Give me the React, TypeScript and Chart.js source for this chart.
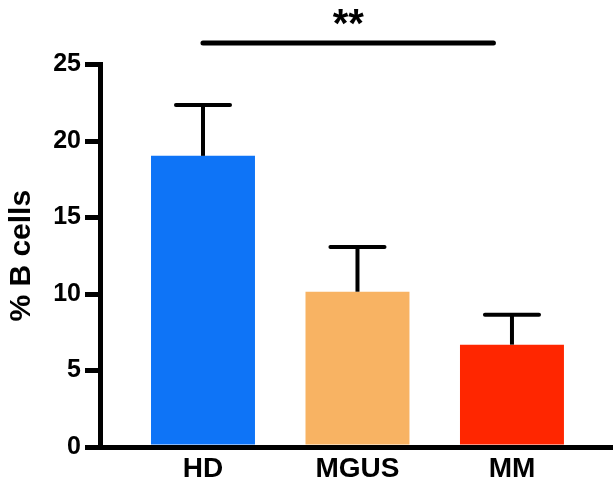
import React, { useEffect, useRef } from "react";
import { Chart, registerables } from "chart.js";

Chart.register(...registerables);

const categories = ["HD", "MGUS", "MM"];
const means = [19.03, 10.15, 6.69];
const errorTops = [22.36, 13.07, 8.65];
const barColors = ["#0E74F7", "#F8B363", "#FF2600"];
const yTicks = [0, 5, 10, 15, 20, 25];
const sigRange = [0, 1.88];
const sigLevel = 26.4;
const sigLabelLevel = 27.55;
const sigLabel = "**";

const FONT = "'Liberation Sans', Arial, Helvetica, sans-serif";

const errorBarPlugin = {
  id: "errorBars",
  afterDatasetsDraw(chart: any) {
    const { ctx } = chart;
    const meta = chart.getDatasetMeta(0);
    const y = chart.scales.y;
    ctx.save();
    ctx.strokeStyle = "#000";
    ctx.lineWidth = 4;
    meta.data.forEach((el: any, i: number) => {
      const top = y.getPixelForValue(errorTops[i]);
      const half = el.width * 0.26;
      ctx.lineCap = "butt";
      ctx.beginPath();
      ctx.moveTo(el.x, el.y);
      ctx.lineTo(el.x, top);
      ctx.stroke();
      ctx.lineCap = "round";
      ctx.beginPath();
      ctx.moveTo(el.x - half, top);
      ctx.lineTo(el.x + half, top);
      ctx.stroke();
    });
    ctx.restore();
  },
};

const sigPlugin = {
  id: "sig",
  afterDraw(chart: any) {
    const { ctx } = chart;
    const x = chart.scales.x;
    const y = chart.scales.y;
    const x1 = x.getPixelForValue(sigRange[0]);
    const x2 = x.getPixelForValue(sigRange[1]);
    const py = y.getPixelForValue(sigLevel);
    ctx.save();
    ctx.strokeStyle = "#000";
    ctx.lineWidth = 5;
    ctx.lineCap = "round";
    ctx.beginPath();
    ctx.moveTo(x1, py);
    ctx.lineTo(x2, py);
    ctx.stroke();
    ctx.fillStyle = "#000";
    ctx.font = `bold 40px ${FONT}`;
    ctx.textAlign = "center";
    ctx.textBaseline = "middle";
    ctx.fillText(sigLabel, (x1 + x2) / 2, y.getPixelForValue(sigLabelLevel));
    ctx.restore();
  },
};

export default function App() {
  const ref = useRef<HTMLCanvasElement>(null);
  useEffect(() => {
    if (!ref.current) return;
    const chart = new Chart(ref.current, {
      type: "bar",
      data: {
        datasets: [
          {
            data: categories.map((c, i) => ({ x: i, y: means[i] })),
            backgroundColor: barColors,
            borderWidth: 0,
            barPercentage: 0.673,
            categoryPercentage: 1,
          },
        ],
      },
      options: {
        animation: false,
        responsive: false,
        events: [],
        layout: { padding: { top: 64.5, left: 0, right: 0, bottom: 0 } },
        plugins: { legend: { display: false }, tooltip: { enabled: false } },
        scales: {
          x: {
            type: "linear",
            min: -0.6667,
            max: 2.654,
            offset: false,
            bounds: "data",
            z: 1,
            afterFit: (s: any) => {
              s.height = 41;
            },
            afterBuildTicks: (s: any) => {
              s.ticks = categories.map((c, i) => ({ value: i }));
            },
            grid: { display: false, drawTicks: false, offset: false },
            border: { display: true, width: 5, color: "#000" },
            ticks: {
              color: "#000",
              padding: 5,
              font: { family: FONT, size: 28, weight: "bold" },
              callback: (v: any) => categories[v] ?? "",
              maxRotation: 0,
              autoSkip: false,
            },
          },
          y: {
            min: 0,
            max: 25,
            z: 1,
            afterFit: (s: any) => {
              s.width = 100;
            },
            afterBuildTicks: (s: any) => {
              s.ticks = yTicks.map((v) => ({ value: v }));
            },
            grid: {
              display: true,
              drawOnChartArea: false,
              drawTicks: true,
              tickLength: 15,
              lineWidth: 5,
              color: "#000",
            },
            border: { display: true, width: 5, color: "#000" },
            ticks: {
              color: "#000",
              padding: 4,
              font: { family: FONT, size: 25, weight: "bold" },
            },
            title: {
              display: true,
              text: "% B cells",
              color: "#000",
              padding: { top: 3.5, bottom: 0 },
              font: { family: FONT, size: 30, weight: "bold" },
            },
          },
        },
      },
      plugins: [errorBarPlugin, sigPlugin],
    });
    return () => chart.destroy();
  }, []);
  return (
    <div style={{ position: "absolute", left: 0, top: 0, width: 613, height: 488 }}>
      <canvas ref={ref} width={613} height={488} />
    </div>
  );
}
